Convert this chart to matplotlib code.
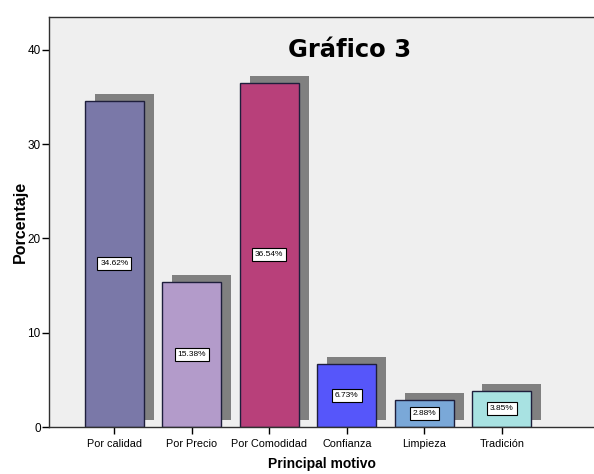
import matplotlib.pyplot as plt
from matplotlib.transforms import ScaledTranslation

categorias = ["Por calidad", "Por Precio", "Por Comodidad", "Confianza", "Limpieza", "Tradición"]
porcentajes = [34.62, 15.38, 36.54, 6.73, 2.88, 3.85]
etiquetas = ["34.62%", "15.38%", "36.54%", "6.73%", "2.88%", "3.85%"]
colores = ["#7a78a8", "#b39bca", "#b8407a", "#5656fa", "#7aa8d8", "#a8e2e2"]

plt.rcParams['font.family'] = ['Liberation Sans', 'DejaVu Sans']

fig = plt.figure(figsize=(5.94, 4.74), dpi=100)
ax = fig.add_axes([49 / 594, 47 / 474, 545 / 594, 410 / 474])
ax.set_facecolor("#efefef")

x = list(range(len(categorias)))
ancho = 0.76

# sombras desplazadas a la derecha y arriba
sombra = ax.transData + ScaledTranslation(10 / 100, 7 / 100, fig.dpi_scale_trans)
ax.bar(x, porcentajes, width=ancho, color="#808080", transform=sombra, zorder=1)

ax.bar(x, porcentajes, width=ancho, color=colores, edgecolor="#1e1e3c",
       linewidth=1, zorder=2)

for xi, v, et in zip(x, porcentajes, etiquetas):
    ax.text(xi, v / 2, et, ha="center", va="center", fontsize=6, zorder=3,
            bbox=dict(boxstyle="square,pad=0.35", fc="white", ec="black", lw=0.8))

ax.set_xlim(-0.843, 6.19)
ax.set_ylim(0, 43.5)
ax.set_xticks(x)
ax.set_xticklabels(categorias, fontsize=7.8)
ax.set_yticks([0, 10, 20, 30, 40])
ax.tick_params(axis="both", direction="out", length=5, width=1)
ax.tick_params(axis="y", labelsize=8.5, pad=1)

ax.spines["right"].set_visible(False)
for s in ["left", "bottom", "top"]:
    ax.spines[s].set_color("#303030")
    ax.spines[s].set_linewidth(1)

ax.set_ylabel("Porcentaje", fontsize=11.5, fontweight="bold", labelpad=0)
ax.set_xlabel("Principal motivo", fontsize=10, fontweight="bold", labelpad=6)

ax.text((350 - 49) / 545, (474 - 50 - 47) / 410, "Gráfico 3",
        transform=ax.transAxes, ha="center", va="center", fontsize=17.5,
        fontweight="bold", family=["DejaVu Sans"])

fig.savefig("out.png", dpi=100, facecolor="white")
